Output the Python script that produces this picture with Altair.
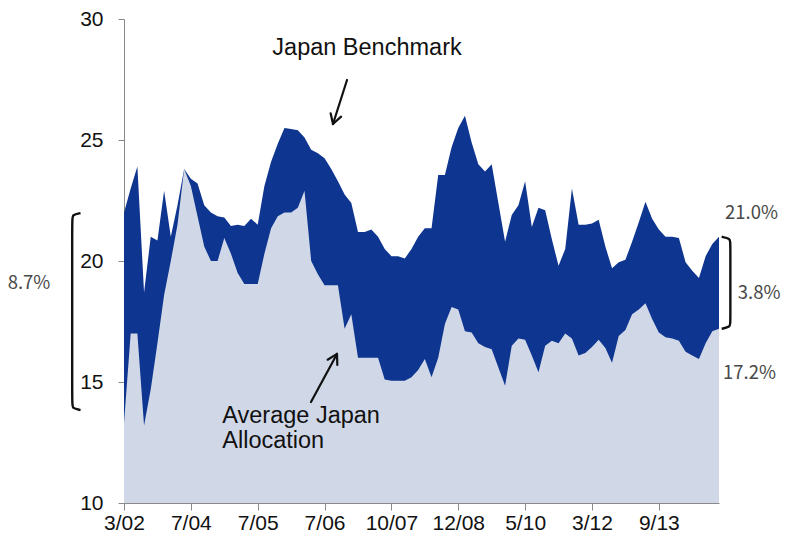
import math

import altair as alt
import pandas as pd

# Observation index along the x axis; every 10th observation carries a date label
tick_labels = ["3/02", "7/04", "7/05", "7/06", "10/07", "12/08", "5/10", "3/12", "9/13"]

# Japan weight in the benchmark (%)
benchmark = [
    22.0, 23.0, 23.9, 18.7, 21.0, 20.85, 22.9, 21.0, 22.3, 23.8,
    23.4, 23.2, 22.3, 22.0, 21.85, 21.8, 21.45, 21.5, 21.45, 21.75,
    21.5, 23.1, 24.1, 24.85, 25.5, 25.45, 25.4, 25.1, 24.6, 24.45,
    24.25, 23.8, 23.3, 22.75, 22.4, 21.2, 21.2, 21.3, 21.0, 20.5,
    20.2, 20.2, 20.1, 20.5, 21.0, 21.35, 21.35, 23.55, 23.55, 24.7,
    25.5, 26.0, 24.9, 24.0, 23.7, 24.0, 22.4, 20.8, 21.9, 22.3,
    23.3, 21.4, 22.2, 22.1, 20.9, 19.8, 20.5, 23.0, 21.5, 21.5,
    21.55, 21.7, 20.6, 19.7, 19.95, 20.05, 20.8, 21.6, 22.45, 21.75,
    21.3, 21.0, 21.0, 20.95, 19.95, 19.6, 19.3, 20.2, 20.7, 21.0,
]

# Average Japan allocation of the managers (%)
allocation = [
    13.3, 17.0, 17.0, 13.2, 14.7, 16.6, 18.6, 20.0, 21.5, 23.8,
    23.1, 21.85, 20.6, 20.0, 20.0, 20.95, 20.3, 19.5, 19.05, 19.05,
    19.05, 20.3, 21.35, 21.85, 22.0, 22.0, 22.2, 22.9, 20.0, 19.45,
    19.0, 19.0, 19.0, 17.2, 17.8, 16.0, 16.0, 16.0, 16.0, 15.1,
    15.05, 15.05, 15.05, 15.2, 15.5, 15.95, 15.2, 16.0, 17.4, 18.1,
    18.0, 17.1, 17.05, 16.6, 16.45, 16.35, 15.6, 14.85, 16.5, 16.8,
    16.75, 16.1, 15.4, 16.5, 16.7, 16.6, 17.0, 16.8, 16.1, 16.2,
    16.45, 16.75, 16.4, 15.8, 16.9, 17.15, 17.8, 18.0, 18.25, 17.6,
    17.05, 16.85, 16.8, 16.7, 16.25, 16.1, 15.95, 16.6, 17.1, 17.2,
]

DARK = "#0e358f"
LIGHT = "#d0d8e8"
FONT = "Liberation Sans"
LABEL_FONT = "Noto Sans CJK JP"

n = len(benchmark)
df = pd.DataFrame({"i": list(range(n)), "bench": benchmark, "alloc": allocation})

x_scale = alt.Scale(domain=[0, n - 1], nice=False, zero=False)
y_scale = alt.Scale(domain=[10, 30], nice=False, zero=False)

label_expr = "[" + ",".join(f"'{t}'" for t in tick_labels) + "][round(datum.value / 10)]"

x_enc = alt.X(
    "i:Q", scale=x_scale, title=None,
    axis=alt.Axis(values=list(range(0, 10 * len(tick_labels), 10)), labelExpr=label_expr,
                  tickSize=7, labelPadding=2, labelFontSize=21, labelFont=FONT,
                  domainColor="#8a8a8a", tickColor="#8a8a8a", labelColor="#111111",
                  grid=False, labelFlush=False),
)
y_axis = alt.Axis(values=[10, 15, 20, 25, 30], tickSize=6, labelPadding=15, labelFontSize=21,
                  labelFont=FONT, domainColor="#8a8a8a", tickColor="#8a8a8a",
                  labelColor="#111111", grid=False)

bench_area = alt.Chart(df).mark_area(color=DARK, opacity=1).encode(
    x=x_enc,
    y=alt.Y("bench:Q", scale=y_scale, axis=y_axis, title=None),
    y2=alt.datum(10),
)
alloc_area = alt.Chart(df).mark_area(color=LIGHT, opacity=1).encode(
    x=alt.X("i:Q", scale=x_scale),
    y=alt.Y("alloc:Q", scale=y_scale),
    y2=alt.datum(10),
)

# Series annotations
bench_note = pd.DataFrame({"x": [36.35], "y": [28.52], "t": ["Japan Benchmark"]})
alloc_note = pd.DataFrame({"x": [14.7, 14.7], "y": [13.3, 12.27],
                           "t": ["Average Japan", "Allocation"]})
bench_text = alt.Chart(bench_note).mark_text(font=FONT, fontSize=23.5, color="#111111",
                                             align="center", baseline="alphabetic").encode(
    x=alt.X("x:Q", scale=x_scale), y=alt.Y("y:Q", scale=y_scale), text="t:N",
)
alloc_text = alt.Chart(alloc_note).mark_text(font=FONT, fontSize=23.5, color="#111111",
                                             align="left", baseline="alphabetic").encode(
    x=alt.X("x:Q", scale=x_scale), y=alt.Y("y:Q", scale=y_scale), text="t:N",
)

# Arrow shafts and chevron heads (data units; 1 x unit ~6.7px, 1 y unit ~24.2px)
PX_X = 595 / (n - 1)
PX_Y = 484 / 20.0
arrows = [((33.36, 27.48), (31.26, 25.66)), ((27.97, 14.17), (31.86, 16.16))]
segs = []
for (x0, y0), (x1, y1) in arrows:
    segs.append((x0, y0, x1, y1))
    dx, dy = (x1 - x0) * PX_X, (y1 - y0) * PX_Y
    ln = math.hypot(dx, dy)
    ux, uy = dx / ln, dy / ln
    for s in (1, -1):
        ang = math.radians(30) * s
        wx = -(ux * math.cos(ang) - uy * math.sin(ang)) * 11
        wy = -(ux * math.sin(ang) + uy * math.cos(ang)) * 11
        segs.append((x1, y1, x1 + wx / PX_X, y1 + wy / PX_Y))
seg_df = pd.DataFrame(segs, columns=["x", "y", "x2", "y2"])
arrow_marks = alt.Chart(seg_df).mark_rule(color="#111111", strokeWidth=2.2, strokeCap="round").encode(
    x=alt.X("x:Q", scale=x_scale), y=alt.Y("y:Q", scale=y_scale), x2="x2:Q", y2="y2:Q",
)


# Brackets showing the gap between benchmark and allocation
def bracket(name, xv, xh, top, bottom):
    dy = 6 / PX_Y
    pts = [(xh, top), (xv, top - dy * 0.3), (xv, top - dy), (xv, bottom + dy),
           (xv, bottom + dy * 0.3), (xh, bottom)]
    return [{"b": name, "o": k, "x": p[0], "y": p[1]} for k, p in enumerate(pts)]


br = pd.DataFrame(bracket("left", -7.75, -6.5, 21.98, 13.84) +
                  bracket("right", 90.7, 89.4, 21.0, 17.2))
bracket_marks = alt.Chart(br).mark_line(color="#111111", strokeWidth=2.4, interpolate="basis").encode(
    x=alt.X("x:Q", scale=x_scale), y=alt.Y("y:Q", scale=y_scale), detail="b:N", order="o:Q",
)

pct = pd.DataFrame({
    "x": [-17.4, 89.9, 91.8, 89.6],
    "y": [19.09, 21.98, 18.68, 15.37],
    "t": ["8.7%", "21.0%", "3.8%", "17.2%"],
})
pct_text = alt.Chart(pct).mark_text(font=LABEL_FONT, fontSize=18.5, color="#484848",
                                    align="left", baseline="middle").encode(
    x=alt.X("x:Q", scale=x_scale), y=alt.Y("y:Q", scale=y_scale), text="t:N",
)

chart = alt.layer(
    bench_area, alloc_area, bench_text, alloc_text, arrow_marks, bracket_marks, pct_text
).properties(
    width=595, height=484,
    background="white",
    autosize=alt.AutoSizeParams(type="none"),
    padding={"left": 124, "top": 19, "right": 67, "bottom": 33},
).configure_view(stroke=None)

chart.save("out.html", embed_options={"renderer": "svg", "actions": False})
